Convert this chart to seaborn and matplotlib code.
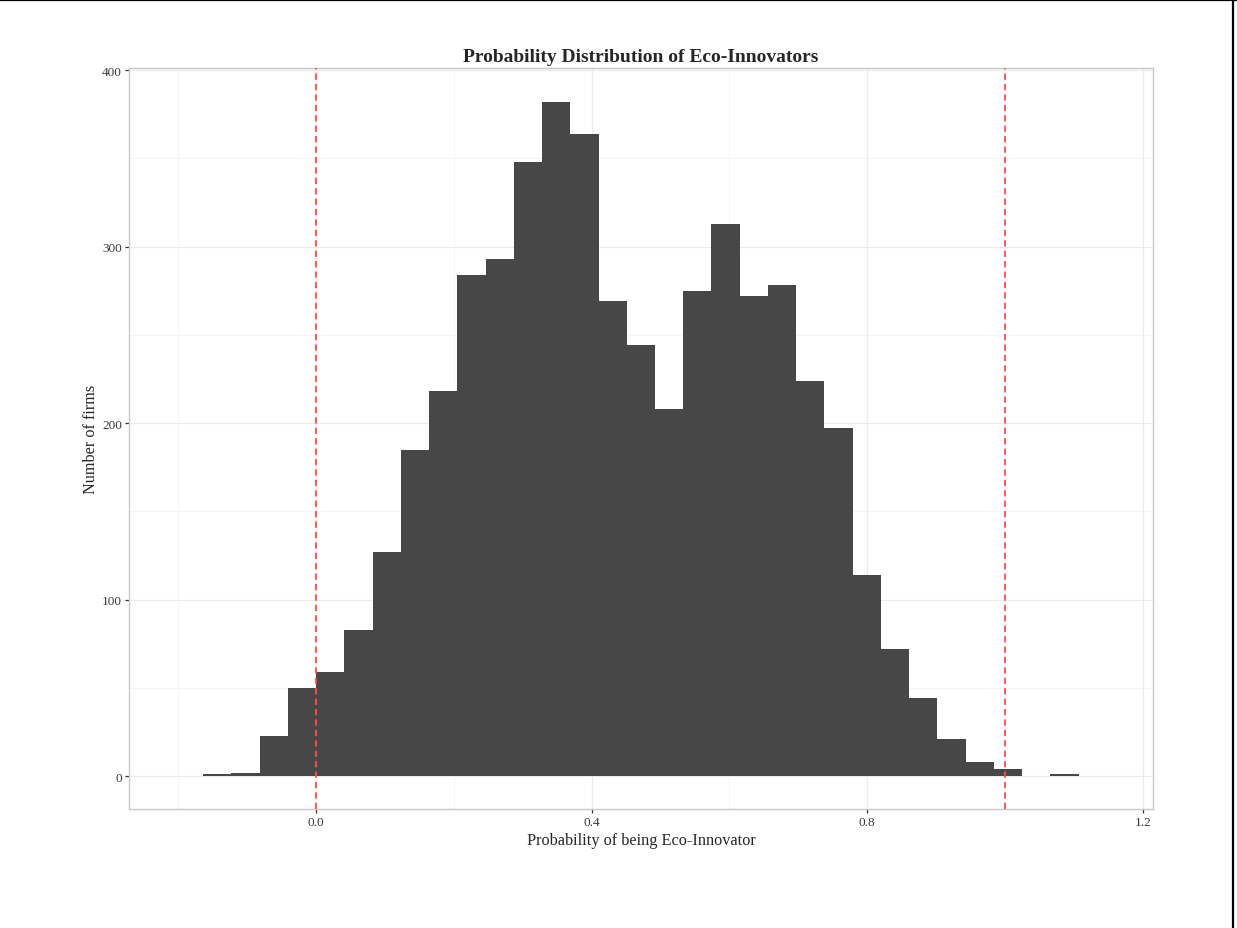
import numpy as np
import pandas as pd
import matplotlib
matplotlib.use("Agg")
import matplotlib.pyplot as plt
from matplotlib.lines import Line2D
from matplotlib.ticker import MultipleLocator
import seaborn as sns

# histogram (31 bins of width 0.041, starting at -0.164)
bin_left = -0.164
bin_width = 0.041
counts = [1, 2, 23, 50, 59, 83, 127, 185, 218, 284, 293, 348, 382, 364, 269, 244,
          208, 275, 313, 272, 278, 224, 197, 114, 72, 44, 21, 8, 4, 0, 1]
cutoffs = [0.0, 1.0]

title = "Probability Distribution of Eco-Innovators"
x_label = "Probability of being Eco-Innovator"
y_label = "Number of firms"

edges = bin_left + bin_width * np.arange(len(counts) + 1)
df = pd.DataFrame({
    "prob": (edges[:-1] + edges[1:]) / 2,
    "n": counts,
})

sns.set_theme(style="white")
plt.rcParams["font.family"] = ["Liberation Serif", "DejaVu Serif"]

fig = plt.figure(figsize=(12.37, 9.29), dpi=100)
ax = fig.add_axes([0.1043, 0.1281, 0.8278, 0.7973])

sns.histplot(
    data=df,
    x="prob",
    weights="n",
    bins=edges.tolist(),
    color="#474747",
    alpha=1,
    linewidth=0,
    ax=ax,
)

for c in cutoffs:
    ax.axvline(c, color="#ff4d4d", alpha=0.9, linestyle=(0, (3, 2)), linewidth=1.5, zorder=3)

ax.set_xlim(-0.2714, 1.2148)
ax.set_ylim(-18.6, 401)
ax.xaxis.set_major_locator(MultipleLocator(0.4))
ax.xaxis.set_minor_locator(MultipleLocator(0.2))
ax.yaxis.set_major_locator(MultipleLocator(100))
ax.yaxis.set_minor_locator(MultipleLocator(50))
ax.set_xticks([0.0, 0.4, 0.8, 1.2])
ax.set_xticklabels(["0.0", "0.4", "0.8", "1.2"])

ax.grid(which="major", color="#ebebeb", linewidth=0.9)
ax.grid(which="minor", color="#f4f4f4", linewidth=0.6)
ax.set_axisbelow(True)

for s in ax.spines.values():
    s.set_color("#c8c8c8")
    s.set_linewidth(1.0)

ax.tick_params(axis="both", which="major", length=3, width=0.9, color="#333333",
               labelsize=9.5, labelcolor="#3a3a3a", pad=2, bottom=True, left=True)
ax.tick_params(axis="both", which="minor", length=0)

ax.set_title(title, fontsize=14, fontweight="bold", pad=5)
ax.set_xlabel(x_label, fontsize=11.7, labelpad=3)
ax.set_ylabel(y_label, fontsize=11.7, labelpad=2)

# outer frame lines seen in the screenshot
fig.add_artist(Line2D([0, 1], [0.9985, 0.9985], transform=fig.transFigure, color="black", linewidth=1.6))
fig.add_artist(Line2D([0.9967, 0.9967], [0, 1], transform=fig.transFigure, color="black", linewidth=1.6))

fig.savefig("out.png", dpi=100)
plt.close(fig)
